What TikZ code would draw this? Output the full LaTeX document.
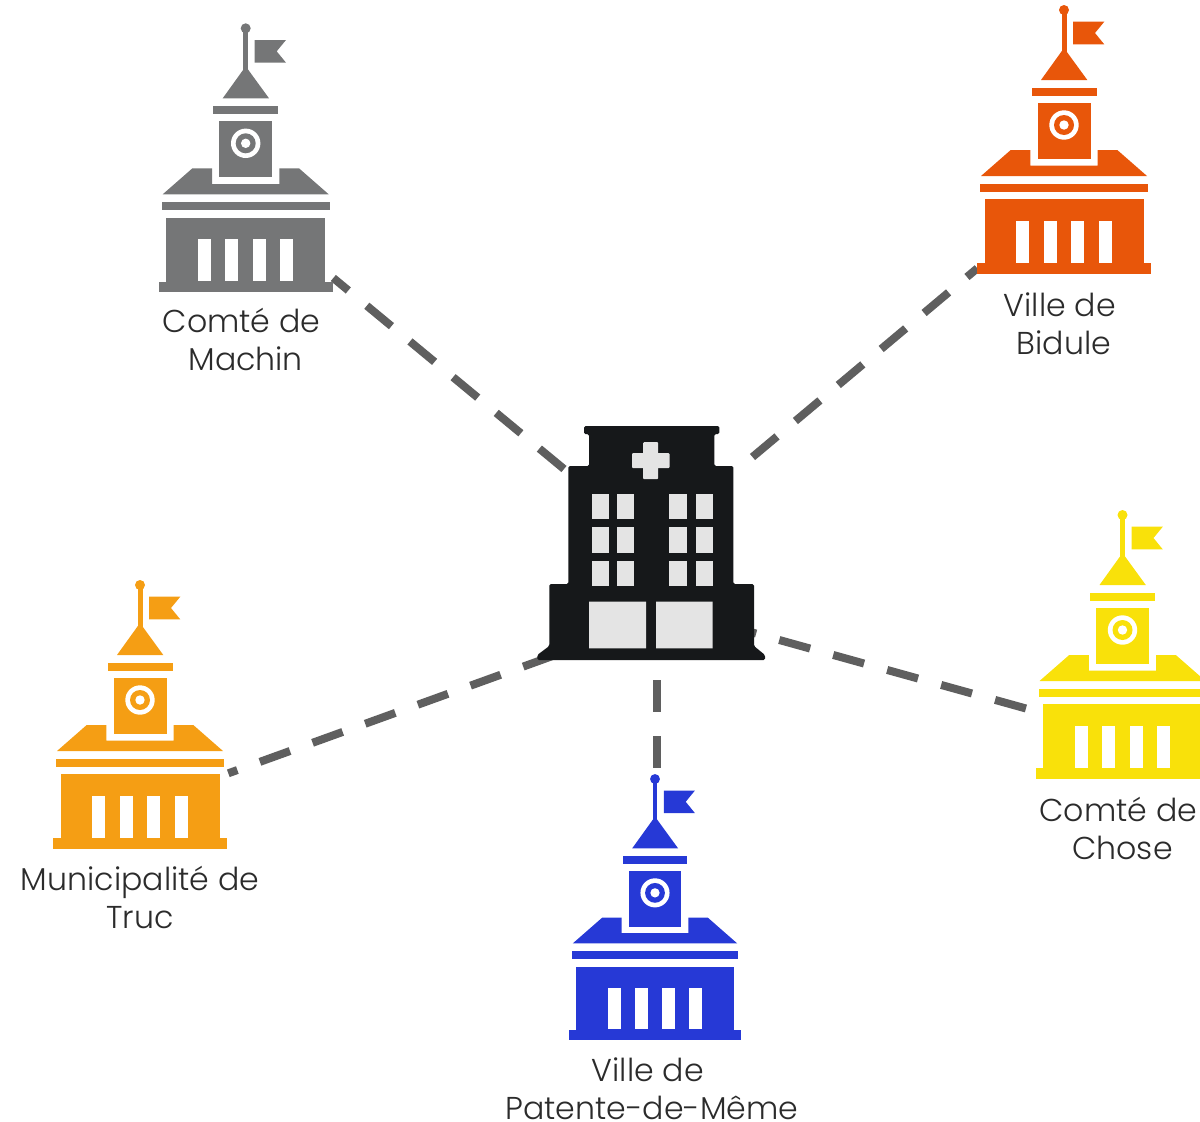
\documentclass[tikz,border=0pt]{standalone}
\usepackage{fontspec}
\setmainfont{Poppins Light}
\definecolor{hallgray}{HTML}{757677}
\definecolor{hallred}{HTML}{E8560A}
\definecolor{hallyellow}{HTML}{F9E10A}
\definecolor{hallamber}{HTML}{F59E14}
\definecolor{hallblue}{HTML}{2639D6}
\definecolor{hospdark}{HTML}{16181A}
\definecolor{hosplight}{HTML}{E4E4E4}
\definecolor{linkgray}{HTML}{5F5F5F}
\definecolor{labelink}{HTML}{2B2B2B}
\newcommand{\trailgap}{\hspace{8.5pt}\mbox{}}
\tikzset{
  x=1pt,y=-1pt,
  link/.style={line width=8pt,draw=linkgray,dash pattern=on 32pt off 24pt},
  place/.style={align=center,font=\fontsize{31.6}{38}\selectfont,text=labelink,inner sep=0pt},
  pics/hall/.style={code={
    \fill[#1] (0,0) circle (5);
    \fill[#1] (-2.5,0) rectangle (2.5,42);
    \fill[#1] (0,38) -- (23.3,70) -- (-23,70) -- cycle;
    \fill[#1] (9,11.7) -- (40.3,11.7) -- (31,23) -- (40.3,34.4) -- (9,34.4) -- cycle;
    \fill[#1] (-32.4,77.7) rectangle (32.6,86);
    \fill[#1] (-26.4,92.7) rectangle (26.6,149);
    \fill[white] (0,115) circle (14.7);
    \fill[#1] (0,115) circle (10);
    \fill[white] (0,115) circle (4.7);
    \fill[#1] (-83,166) -- (-53.3,140) -- (-33.7,140) -- (-33.7,155.7) -- (33.7,155.7) -- (33.7,140) -- (53.3,140) -- (83,166) -- cycle;
    \fill[#1] (-83.7,173.7) rectangle (84,181.7);
    \fill[#1] (-79.4,189.4) rectangle (79.6,253.4);
    \fill[#1] (-86.7,253.4) rectangle (87,263.7);
    \foreach \wx in {-47.7,-20.4,7,34.6}
      \fill[white] (\wx,210.7) rectangle ++(13,42);
  }}
}
\begin{document}
\begin{tikzpicture}
\useasboundingbox (0,0) rectangle (1200,1122);
\clip (0,0) rectangle (1200,1122);
% connector ends
\coordinate (hospNW) at (564,469);
\coordinate (hospNE) at (752.5,457);
\coordinate (hospSW) at (553.3,655.7);
\coordinate (hospSE) at (725.3,625);
\coordinate (hospS) at (657,680);
\coordinate (machinEnd) at (333.3,278);
\coordinate (biduleEnd) at (977.3,268.3);
\coordinate (trucEnd) at (228.3,773.3);
\coordinate (choseEnd) at (1026,708.5);
\coordinate (patenteEnd) at (657,768);
\draw[link] (hospNW) -- (machinEnd);
\draw[link] (hospNE) -- (biduleEnd);
\draw[link] (hospSW) -- (trucEnd);
\draw[link] (hospSE) -- (choseEnd);
\draw[link] (hospS) -- (patenteEnd);
% halls
\pic at (245.7,28.3) {hall=hallgray};
\pic at (1064,10) {hall=hallred};
\pic at (1122.5,515) {hall=hallyellow};
\pic at (140,585) {hall=hallamber};
\pic[scale=0.99] at (655,779) {hall=hallblue};
% hospital
\fill[hospdark,rounded corners=1.5pt] (584,426) -- (719.3,426) -- (719.3,434) -- (714.3,434) -- (714.3,466) -- (733.3,466) -- (733.3,584) -- (754,584) -- (754,646) -- (765,655) -- (765,660) -- (537.3,660) -- (537.3,655) -- (549.3,646) -- (549.3,584) -- (568.3,584) -- (568.3,466) -- (589,466) -- (589,434) -- (584,434) -- cycle;
\fill[hosplight,rounded corners=1pt] (643.2,442.2) rectangle (658.2,479.2) (632,453.2) rectangle (669.5,468.2);
\foreach \wx/\wxx in {592/608.7,616.7/634,669.3/687.3,695.7/712.7}
  \foreach \wy/\wyy in {494/518.7,526.7/553.3,560.7/585.7}
    \fill[hosplight] (\wx,\wy) rectangle (\wxx,\wyy);
\fill[hosplight] (589,601.7) rectangle (646,648.3) (656,601.7) rectangle (712.7,648.3);
% labels
\node[place] (machin) at (245.7,339.5) {Comté de\trailgap\\Machin};
\node[place] (bidule) at (1064,323.5) {Ville de\trailgap\\Bidule};
\node[place] (chose) at (1122.5,828.5) {Comté de\trailgap\\Chose};
\node[place] (truc) at (140,897) {Municipalité de\\Truc};
\node[place] (patente) at (652,1088.5) {Ville de\trailgap\\Patente-de-Même};
\end{tikzpicture}
\end{document}
